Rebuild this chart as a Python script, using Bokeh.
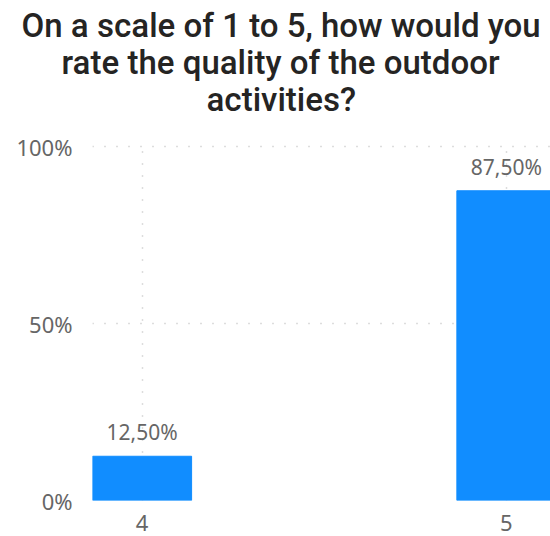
from bokeh.plotting import figure
from bokeh.models import ColumnDataSource, FixedTicker, Range1d, Title, NumeralTickFormatter
from bokeh.core.properties import value
from bokeh.embed import file_html
from bokeh.resources import INLINE

ratings = [4, 5]
shares = [0.125, 0.875]
share_labels = ["12,50%", "87,50%"]
x_tick_labels = {4: "4", 5: "5"}
y_ticks = [0, 0.5, 1.0]
title_lines = ["On a scale of 1 to 5, how would you",
               "rate the quality of the outdoor",
               "activities?"]
# horizontal offsets (px, relative to plot frame left) that centre each title line
title_offsets = [-71, -31, 114]

src = ColumnDataSource(dict(x=ratings, top=shares, lab=share_labels))

p = figure(width=550, height=536, output_backend="svg", toolbar_location=None,
           x_range=Range1d(3.864, 5.121), y_range=Range1d(0, 1.017),
           min_border_left=92, min_border_right=0, min_border_bottom=36, min_border_top=140)
p.outline_line_color = None
p.background_fill_color = "white"

# spacer between the title block and the plot frame
p.add_layout(Title(text=" ", text_font_size="20px", standoff=0), "above")
for line, off in reversed(list(zip(title_lines, title_offsets))):
    t = Title(text=line, align="left", offset=off, text_font="Roboto Medium",
              text_font_size="33px", text_font_style="normal", text_color="#252423", standoff=-4)
    p.add_layout(t, "above")

p.vbar(x="x", top="top", bottom=0, width=0.272, source=src, color="#118DFF")
p.text(x="x", y="top", text="lab", source=src, text_align="center", text_baseline="alphabetic",
       y_offset=-24, text_font=value("Noto Sans"), text_font_size="21px", text_color="#666666")

p.xaxis.ticker = FixedTicker(ticks=ratings)
p.xaxis.major_label_overrides = x_tick_labels
p.yaxis.ticker = FixedTicker(ticks=y_ticks)
p.yaxis.formatter = NumeralTickFormatter(format="0%")
for ax in (p.xaxis, p.yaxis):
    ax.axis_line_color = None
    ax.major_tick_line_color = None
    ax.minor_tick_line_color = None
    ax.major_tick_out = 0
    ax.major_label_text_font = "Noto Sans"
    ax.major_label_text_font_size = "22px"
    ax.major_label_text_color = "#666666"
p.xaxis.major_label_standoff = 14
p.yaxis.major_label_standoff = 20

p.grid.grid_line_color = "#BBBBBB"
p.grid.grid_line_dash = "1 11"
p.grid.grid_line_width = 1.5

open("out.html", "w").write(file_html(p, INLINE))
